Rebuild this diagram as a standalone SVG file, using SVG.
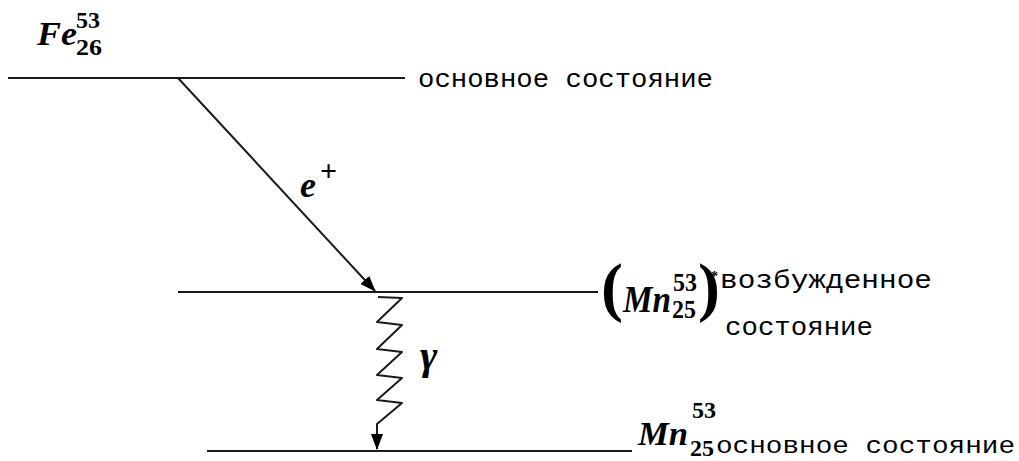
<svg xmlns="http://www.w3.org/2000/svg" width="1019" height="461" viewBox="0 0 1019 461">
<style>
.lvl{stroke:#1a1a1a;stroke-width:2;fill:none}
.sym{font-family:"Liberation Serif",serif;font-weight:bold;font-style:italic;fill:#000}
.num{font-family:"Liberation Serif",serif;font-weight:bold;fill:#000}
.lbl{font-family:"Liberation Mono","Courier New",monospace;fill:#000}
.par{font-family:"Liberation Serif",serif;font-weight:bold;fill:#000}
</style>
<defs>
<marker id="ah" markerWidth="16" markerHeight="12" refX="15" refY="6" orient="auto" markerUnits="userSpaceOnUse">
<path d="M0,0 L16,6 L0,12 Z" fill="#000"/>
</marker>
</defs>
<g id="level-fe">
<line class="lvl" x1="8" y1="78" x2="405" y2="78"/>
<text class="sym" x="37" y="45" font-size="34" textLength="40" lengthAdjust="spacingAndGlyphs">Fe</text>
<text class="num" x="76" y="28" font-size="24" textLength="24" lengthAdjust="spacingAndGlyphs">53</text>
<text class="num" x="76" y="55" font-size="24" textLength="26" lengthAdjust="spacingAndGlyphs">26</text>
<text class="lbl" x="418" y="87" font-size="26" textLength="295" lengthAdjust="spacingAndGlyphs">основное состояние</text>
</g>
<g id="level-mn-excited">
<line class="lvl" x1="178" y1="292" x2="598" y2="292"/>
<text class="par" x="601" y="309" font-size="66">(</text>
<text class="sym" x="623" y="312" font-size="38" textLength="48" lengthAdjust="spacingAndGlyphs">Mn</text>
<text class="num" x="673" y="291" font-size="26" textLength="24" lengthAdjust="spacingAndGlyphs">53</text>
<text class="num" x="672" y="318" font-size="26" textLength="24" lengthAdjust="spacingAndGlyphs">25</text>
<text class="par" x="698" y="309" font-size="66">)</text>
<text class="num" x="711" y="281" font-size="14">*</text>
<text class="lbl" x="720" y="288" font-size="26" textLength="212" lengthAdjust="spacingAndGlyphs">возбужденное</text>
<text class="lbl" x="725" y="335" font-size="26" textLength="148" lengthAdjust="spacingAndGlyphs">состояние</text>
</g>
<g id="level-mn-ground">
<line class="lvl" x1="207" y1="451" x2="632" y2="451"/>
<text class="sym" x="638" y="445" font-size="34" textLength="50" lengthAdjust="spacingAndGlyphs">Mn</text>
<text class="num" x="692" y="418" font-size="24" textLength="24" lengthAdjust="spacingAndGlyphs">53</text>
<text class="num" x="690" y="456" font-size="24" textLength="24" lengthAdjust="spacingAndGlyphs">25</text>
<text class="lbl" x="716" y="453" font-size="24" textLength="299" lengthAdjust="spacingAndGlyphs">основное состояние</text>
</g>
<g id="connectors">
<g id="beta-decay">
<line class="lvl" x1="178" y1="78" x2="375" y2="291" marker-end="url(#ah)"/>
<text class="sym" x="300" y="197" font-size="36">e</text>
<text class="num" x="320" y="181" font-size="30">+</text>
</g>
<g id="gamma-decay">
<polyline class="lvl" stroke-linejoin="round" points="378,297 402,298 377,322 402,325 377,349 402,352 377,375 402,378 377,400 402,403 377,424 377,449" marker-end="url(#ah)"/>
<text class="sym" x="420" y="369" font-size="42">γ</text>
</g>
</g>
</svg>
